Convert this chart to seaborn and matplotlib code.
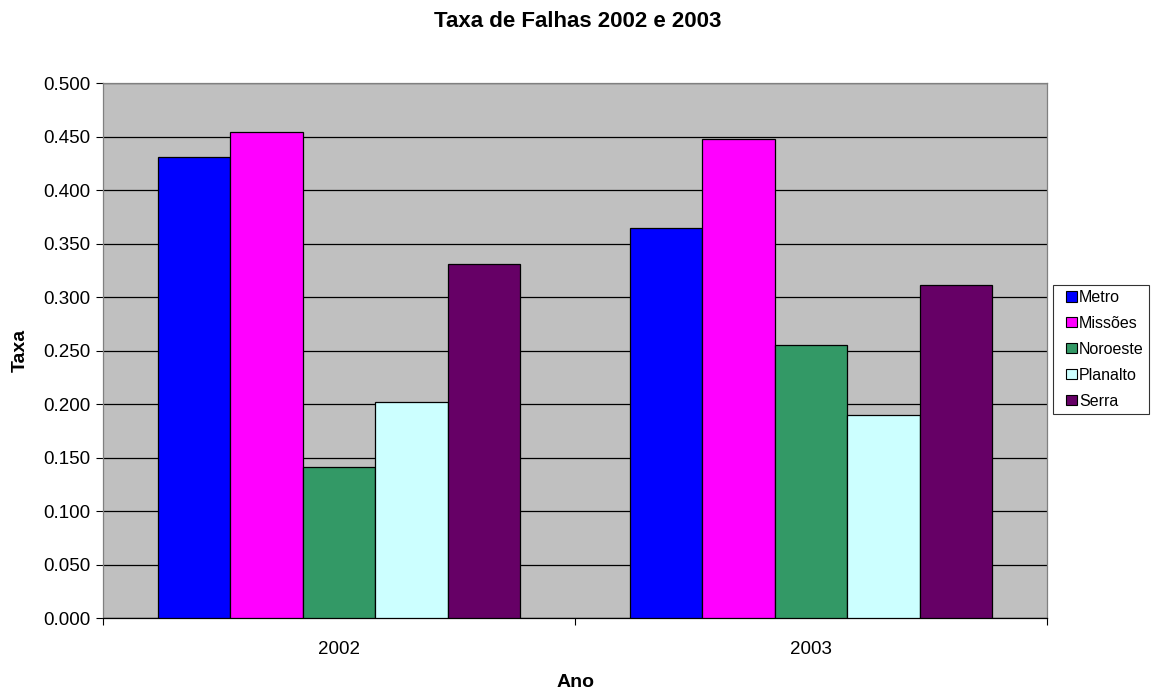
import matplotlib
matplotlib.use("Agg")
import matplotlib.pyplot as plt
from matplotlib.patches import Rectangle
from matplotlib.legend_handler import HandlerPatch
from matplotlib.ticker import FixedLocator, FormatStrFormatter
import seaborn as sns
import pandas as pd

# Failure rates per region and year
years = ["2002", "2003"]
regions = ["Metro", "Missões", "Noroeste", "Planalto", "Serra"]
rate_2002 = [0.431, 0.455, 0.141, 0.202, 0.331]
rate_2003 = [0.365, 0.448, 0.255, 0.190, 0.312]
region_colors = ["#0000FF", "#FF00FF", "#339966", "#CCFFFF", "#660066"]

df = pd.DataFrame({
    "Ano": [years[0]] * len(regions) + [years[1]] * len(regions),
    "Regiao": regions * 2,
    "Taxa": rate_2002 + rate_2003,
})

sns.set_theme(style="white", rc={"text.color": "black",
                                 "axes.labelcolor": "black",
                                 "xtick.color": "black",
                                 "ytick.color": "black"})
plt.rcParams["font.family"] = ["Liberation Sans", "DejaVu Sans"]

fig = plt.figure(figsize=(11.64, 6.92), dpi=100)
ax = fig.add_axes([0.0885, 0.1065, 0.811, 0.773])
ax.set_facecolor("#C0C0C0")

sns.barplot(data=df, x="Ano", y="Taxa", hue="Regiao", hue_order=regions,
            palette=region_colors, width=0.767, gap=0, ax=ax,
            edgecolor="black", linewidth=0.9, saturation=1, errorbar=None,
            zorder=3)

ax.set_xlim(-0.5, 1.5)
ax.set_ylim(0, 0.5)
ax.set_yticks([i * 0.05 for i in range(11)])
ax.yaxis.set_major_formatter(FormatStrFormatter("%.3f"))
ax.yaxis.grid(True, color="black", linewidth=0.9, zorder=0)
ax.set_axisbelow(True)

# tick marks sit between categories, labels at category centres
ax.xaxis.set_minor_locator(FixedLocator([-0.5, 0.5, 1.5]))
ax.tick_params(axis="x", which="major", length=0, pad=16, labelsize=13.5)
ax.tick_params(axis="x", which="minor", length=5, width=0.8, color="black",
               direction="out", bottom=True)
ax.tick_params(axis="y", which="major", length=5, width=0.8, color="black",
               direction="out", left=True, labelsize=13.5, pad=4)

for side in ["top", "right", "left"]:
    ax.spines[side].set_color("#808080")
    ax.spines[side].set_linewidth(0.9)
ax.spines["bottom"].set_color("black")
ax.spines["bottom"].set_linewidth(0.9)

ax.set_xlabel("Ano", fontsize=14, fontweight="bold")
ax.set_ylabel("Taxa", fontsize=14, fontweight="bold")
ax.xaxis.set_label_coords(0.5, -0.104)
ax.yaxis.set_label_coords(-0.079, 0.5)
fig.suptitle("Taxa de Falhas 2002 e 2003", fontsize=16, fontweight="bold",
             x=0.496, y=0.984, va="top")


def small_square(legend, orig_handle, xdescent, ydescent, width, height,
                 fontsize):
    # square key pushed to the right end of the handle box
    side = height
    return Rectangle((-xdescent + width - side, -ydescent), side, side)


leg = ax.legend(loc="upper left", bbox_to_anchor=(1.0062, 0.624),
                fontsize=11.5, frameon=True, fancybox=False,
                edgecolor="black", handlelength=1.13, handleheight=0.6,
                handletextpad=0.15, labelspacing=0.68, borderpad=0.35,
                borderaxespad=0,
                handler_map={Rectangle: HandlerPatch(patch_func=small_square)})
leg.get_frame().set_linewidth(0.8)
for h in leg.legend_handles:
    h.set_edgecolor("black")
    h.set_linewidth(0.8)

fig.savefig("out.png", dpi=100, facecolor="white")
